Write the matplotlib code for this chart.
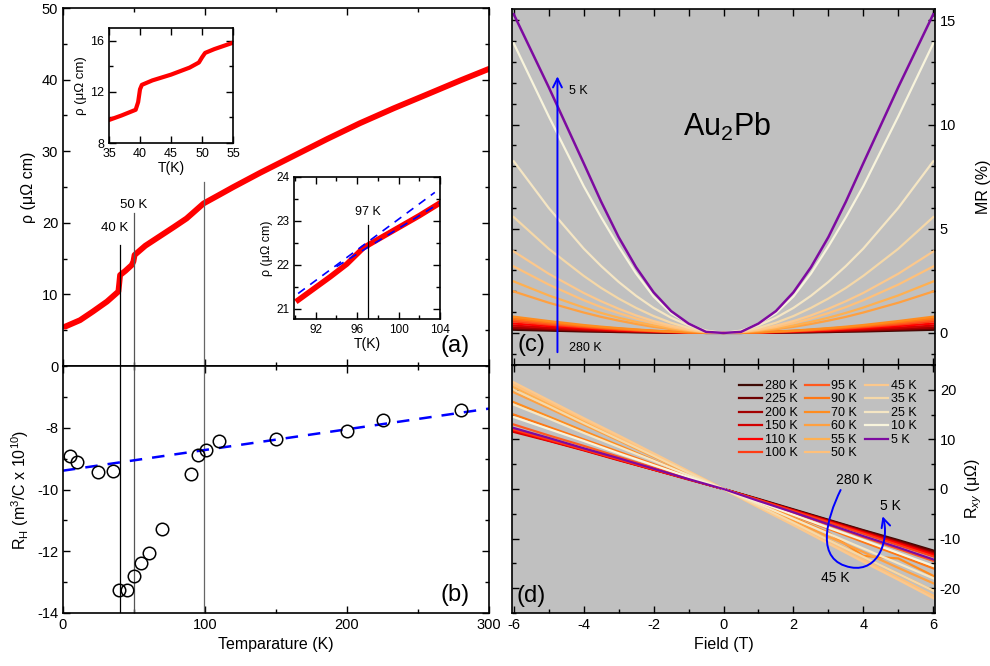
import matplotlib.pyplot as plt
import numpy as np
from matplotlib.ticker import MultipleLocator, FixedLocator, NullFormatter
from matplotlib.patches import FancyArrowPatch
from matplotlib.path import Path

plt.rcParams['font.family'] = ['Liberation Sans', 'DejaVu Sans']
plt.rcParams['mathtext.fontset'] = 'custom'
plt.rcParams['mathtext.rm'] = 'Liberation Sans'
plt.rcParams['mathtext.it'] = 'Liberation Sans:italic'
plt.rcParams['axes.unicode_minus'] = False

# ---- (a) resistivity vs temperature
T_rho = [1.5, 5, 12, 21, 31, 39, 39.6, 40.2, 44, 48.4, 49.6, 50.4, 58, 68, 78, 87, 99,
         110, 120, 139, 153, 162, 186, 209, 233, 256, 280, 300]
rho = [5.5, 5.8, 6.4, 7.6, 9.0, 10.4, 11.5, 12.7, 13.3, 14.1, 14.6, 15.5, 16.8, 18.1, 19.4,
       20.6, 22.7, 23.9, 25.0, 27.0, 28.4, 29.3, 31.7, 33.9, 36.0, 37.9, 39.9, 41.5]

# inset 1 (35-55 K)
T_in1 = [35, 37, 39.3, 39.7, 40.0, 40.3, 42, 45, 48, 49.5, 50.0, 50.5, 52, 55]
rho_in1 = [9.8, 10.15, 10.6, 11.2, 12.2, 12.55, 12.9, 13.35, 13.9, 14.3, 14.7, 15.05, 15.35, 15.85]

# inset 2 (90-104 K)
T_in2 = [90.3, 93.4, 95, 96.6, 98, 100, 102, 104]
rho_in2 = [21.2, 21.73, 22.02, 22.39, 22.58, 22.85, 23.12, 23.41]
T_fit_lo = [90.3, 103.5]
rho_fit_lo = [21.35, 23.65]
T_fit_hi = [94, 104]
rho_fit_hi = [21.96, 23.41]

# ---- (b) Hall coefficient
T_hall = [4.9, 10.1, 24.9, 35, 39.7, 45.3, 50, 55.2, 60.3, 70, 89.9, 95, 100.5, 110, 150,
          200.2, 225.6, 280]
R_H = [-8.93, -9.10, -9.44, -9.39, -13.24, -13.24, -12.81, -12.38, -12.05, -11.29, -9.5,
       -8.88, -8.72, -8.44, -8.38, -8.11, -7.74, -7.44]
T_line = [0, 300]
R_line = [-9.39, -7.38]

# ---- (c) MR, (d) Hall resistance
temps = ['280 K', '225 K', '200 K', '150 K', '110 K', '100 K', '95 K', '90 K', '70 K',
         '60 K', '55 K', '50 K', '45 K', '35 K', '25 K', '10 K', '5 K']
colors = ['#3d0a05', '#6e0000', '#a30000', '#d10000', '#ff0000', '#ff3c14', '#ff5a1e',
          '#ff7814', '#ff8c1e', '#ffa040', '#ffb050', '#ffc07a', '#fcc88c', '#f5d8a8',
          '#f5e6c4', '#f8f4dc', '#7d0aa0']

B_half = [0, 0.5, 1, 1.5, 2, 2.5, 3, 3.5, 4, 5, 6]
mr_half = [
    [0, 0, 0.01, 0.01, 0.02, 0.03, 0.04, 0.06, 0.07, 0.11, 0.15],
    [0, 0, 0.01, 0.02, 0.03, 0.04, 0.06, 0.08, 0.10, 0.15, 0.20],
    [0, 0, 0.01, 0.02, 0.04, 0.06, 0.08, 0.10, 0.13, 0.19, 0.26],
    [0, 0, 0.02, 0.03, 0.05, 0.08, 0.10, 0.14, 0.17, 0.25, 0.35],
    [0, 0.01, 0.02, 0.04, 0.07, 0.10, 0.13, 0.18, 0.22, 0.33, 0.45],
    [0, 0.01, 0.02, 0.05, 0.08, 0.12, 0.16, 0.21, 0.27, 0.40, 0.55],
    [0, 0.01, 0.03, 0.05, 0.09, 0.13, 0.18, 0.24, 0.31, 0.45, 0.62],
    [0, 0.01, 0.03, 0.06, 0.10, 0.15, 0.21, 0.27, 0.34, 0.51, 0.70],
    [0, 0.01, 0.03, 0.07, 0.11, 0.17, 0.23, 0.30, 0.38, 0.57, 0.78],
    [0, 0.03, 0.09, 0.18, 0.29, 0.43, 0.59, 0.77, 0.98, 1.45, 1.99],
    [0, 0.03, 0.11, 0.22, 0.36, 0.53, 0.73, 0.96, 1.22, 1.80, 2.47],
    [0, 0.04, 0.14, 0.28, 0.47, 0.69, 0.95, 1.24, 1.57, 2.32, 3.19],
    [0, 0.05, 0.17, 0.35, 0.57, 0.84, 1.16, 1.52, 1.92, 2.84, 3.91],
    [0, 0.07, 0.24, 0.49, 0.81, 1.20, 1.65, 2.16, 2.74, 4.04, 5.56],
    [0, 0.11, 0.36, 0.73, 1.20, 1.78, 2.45, 3.21, 4.05, 6.00, 8.24],
    [0, 0.08, 0.45, 0.95, 1.75, 2.85, 4.15, 5.55, 7.05, 10.40, 13.90],
    [0, 0.05, 0.45, 1.05, 1.95, 3.15, 4.60, 6.30, 8.15, 11.80, 15.30],
]

B_hall = [-6, -5, -4, -3, -2, -1, 0, 1, 2, 3, 4, 5, 6]
rxy = [
    [12.0, 10.1, 8.1, 6.2, 4.1, 2.1, 0.0, -2.0, -4.1, -6.2, -8.3, -10.3, -12.4],
    [11.8, 9.9, 8.0, 6.0, 4.0, 2.0, 0.0, -2.1, -4.2, -6.3, -8.4, -10.5, -12.6],
    [11.7, 9.8, 7.9, 5.9, 3.9, 2.0, 0.0, -2.1, -4.3, -6.4, -8.6, -10.7, -12.9],
    [11.5, 9.7, 7.8, 5.8, 3.9, 1.9, 0.0, -2.2, -4.3, -6.5, -8.7, -10.9, -13.1],
    [11.8, 9.8, 7.9, 5.9, 3.9, 2.0, 0.0, -2.2, -4.4, -6.6, -8.8, -11.0, -13.3],
    [12.0, 10.0, 8.0, 6.0, 4.0, 2.0, 0.0, -2.2, -4.5, -6.7, -9.0, -11.3, -13.6],
    [13.0, 10.8, 8.7, 6.5, 4.3, 2.2, 0.0, -2.4, -4.8, -7.2, -9.7, -12.1, -14.5],
    [15.0, 12.5, 10.0, 7.5, 5.0, 2.5, 0.0, -2.7, -5.3, -8.0, -10.7, -13.3, -16.0],
    [17.5, 14.6, 11.7, 8.8, 5.8, 2.9, 0.0, -2.9, -5.8, -8.8, -13.5, -14.0, -17.5],
    [19.5, 16.3, 13.0, 9.8, 6.5, 3.2, 0.0, -3.2, -6.4, -9.6, -12.7, -15.9, -19.0],
    [20.5, 17.1, 13.7, 10.2, 6.8, 3.4, 0.0, -3.4, -6.8, -10.2, -13.7, -17.1, -20.5],
    [21.0, 17.5, 14.0, 10.5, 7.0, 3.5, 0.0, -3.6, -7.2, -10.8, -14.3, -17.9, -21.5],
    [21.5, 17.9, 14.3, 10.8, 7.2, 3.6, 0.0, -3.7, -7.3, -11.0, -14.7, -18.3, -22.0],
    [20.0, 16.7, 13.3, 10.0, 6.7, 3.3, 0.0, -3.4, -6.8, -10.3, -13.7, -17.1, -20.5],
    [17.0, 14.2, 11.3, 8.5, 5.7, 2.8, 0.0, -3.0, -6.0, -9.0, -12.0, -15.0, -18.0],
    [14.5, 12.1, 9.7, 7.2, 4.8, 2.4, 0.0, -2.6, -5.2, -7.8, -10.3, -12.9, -15.5],
    [12.3, 10.3, 8.2, 6.2, 4.1, 2.0, 0.0, -2.4, -4.7, -7.1, -9.5, -11.8, -14.2],
]


def style(ax, xmaj, xmin, ymaj, ymin, size=10.5, lw=1.2):
    ax.xaxis.set_major_locator(MultipleLocator(xmaj))
    ax.xaxis.set_minor_locator(MultipleLocator(xmin))
    ax.yaxis.set_major_locator(MultipleLocator(ymaj))
    ax.yaxis.set_minor_locator(MultipleLocator(ymin))
    ax.tick_params(which='both', direction='in', top=True, right=True, left=True,
                   bottom=True, labelsize=size, width=1)
    ax.tick_params(which='major', length=5)
    ax.tick_params(which='minor', length=3)
    for s in ax.spines.values():
        s.set_linewidth(lw)


fig = plt.figure(figsize=(9.9, 6.66), dpi=100)

L, W = 63/990, 426/990
R0, RW = 512/990, 423/990
ax_a = fig.add_axes([L, 300/666, W, 358/666])
ax_b = fig.add_axes([L, 53/666, W, 247/666])
ax_c = fig.add_axes([R0, 301/666, RW, 356/666])
ax_d = fig.add_axes([R0, 53/666, RW, 248/666])

# (a)
ax_a.plot(T_rho, rho, color='red', lw=4.2, solid_capstyle='round', solid_joinstyle='round')
ax_a.set_xlim(0, 300)
ax_a.set_ylim(0, 50)
style(ax_a, 100, 50, 10, 5)
ax_a.xaxis.set_major_formatter(NullFormatter())
ax_a.set_ylabel(r'ρ (μΩ cm)', fontsize=11.5)
for t, top, c in [(40, 16.9, 'black'), (50, 21.3, '#555555'), (99, 25.7, '#666666')]:
    ax_a.plot([t, t], [0, top], color=c, lw=0.9)
    ax_b.axvline(t, color=c, lw=0.9)
ax_a.text(36.6, 19.3, '40 K', ha='center', va='center', fontsize=9.5)
ax_a.text(50, 22.5, '50 K', ha='center', va='center', fontsize=9.5)
ax_a.text(276, 2.8, '(a)', ha='center', va='center', fontsize=17)

# inset 1
ins1 = fig.add_axes([109/990, 1 - 143/666, 124/990, 115/666])
ins1.plot(T_in1, rho_in1, color='red', lw=3)
ins1.set_xlim(35, 55)
ins1.set_ylim(8, 17)
style(ins1, 5, 5, 4, 2, size=9)
ins1.set_xlabel('T(K)', fontsize=10, labelpad=1)
ins1.set_ylabel(r'ρ (μΩ cm)', fontsize=9.5, labelpad=2)

# inset 2
ins2 = fig.add_axes([294/990, 1 - 319/666, 146/990, 142/666])
ins2.plot(T_in2, rho_in2, color='red', lw=4)
ins2.plot(T_fit_lo, rho_fit_lo, color='blue', lw=1.2, ls=(0, (5, 4)))
ins2.plot(T_fit_hi, rho_fit_hi, color='blue', lw=1.2, ls=(0, (5, 4)))
ins2.plot([97, 97], [20.77, 22.9], color='black', lw=0.9)
ins2.text(97, 23.2, '97 K', ha='center', va='center', fontsize=9)
ins2.set_xlim(89.9, 104)
ins2.set_ylim(20.77, 24)
style(ins2, 4, 2, 1, 0.5, size=8.5)
ins2.set_xlabel('T(K)', fontsize=10, labelpad=1)
ins2.set_ylabel(r'ρ (μΩ cm)', fontsize=9, labelpad=2)

# (b)
ax_b.plot(T_line, R_line, color='blue', lw=1.8, ls=(0, (5, 4)))
ax_b.plot(T_hall, R_H, 'o', ms=9, mfc='none', mec='black', mew=1.1)
ax_b.set_xlim(0, 300)
ax_b.set_ylim(-14, -6)
style(ax_b, 100, 50, 2, 1)
ax_b.yaxis.set_major_locator(FixedLocator([-14, -12, -10, -8]))
ax_b.set_xlabel('Temparature (K)', fontsize=11.5)
ax_b.set_ylabel(r'R$_\mathrm{H}$ (m$^3$/C x 10$^{10}$)', fontsize=11.5)
ax_b.text(276, -13.42, '(b)', ha='center', va='center', fontsize=17)

# (c)
Bf = np.r_[-np.array(B_half[:0:-1]), B_half]
for lab, col, v in zip(temps, colors, mr_half):
    ax_c.plot(Bf, np.r_[v[:0:-1], v], color=col, lw=1.6 if lab != '5 K' else 1.8)
ax_c.set_facecolor('#c0c0c0')
ax_c.set_xlim(-6.05, 6.05)
ax_c.set_ylim(-1.54, 15.55)
style(ax_c, 1, 1, 5, 1)
ax_c.tick_params(labelbottom=False, labelleft=False, labelright=True)
ax_c.yaxis.set_label_position('right')
ax_c.set_ylabel('MR (%)', fontsize=11.5, labelpad=14)
ax_c.annotate('', xy=(-4.75, 12.45), xytext=(-4.75, -1.06),
              arrowprops=dict(arrowstyle='->', color='blue', lw=1.4, mutation_scale=16),
              zorder=6)
ax_c.text(-4.42, 11.6, '5 K', fontsize=9, va='center')
ax_c.text(-4.42, -0.72, '280 K', fontsize=9, va='center')
ax_c.text(0.1, 9.9, r'Au$_2$Pb', fontsize=22, ha='center', va='center')
ax_c.text(-5.5, -0.6, '(c)', fontsize=17, ha='center', va='center')

# (d)
for lab, col, v in zip(temps, colors, rxy):
    ax_d.plot(B_hall, v, color=col, lw=1.6, label=lab)
ax_d.set_facecolor('#c0c0c0')
ax_d.set_xlim(-6.05, 6.05)
ax_d.set_ylim(-25, 25)
style(ax_d, 2, 1, 10, 5)
ax_d.tick_params(labelleft=False, labelright=True)
ax_d.yaxis.set_label_position('right')
ax_d.set_ylabel(r'R$_{xy}$ (μΩ)', fontsize=11.5, labelpad=2)
ax_d.set_xlabel('Field (T)', fontsize=11.5)
ax_d.legend(ncol=3, loc='upper left', bbox_to_anchor=(0.515, 0.975), frameon=False,
            fontsize=9, handlelength=1.9, handletextpad=0.2, columnspacing=0.6,
            labelspacing=0.12, borderpad=0.2)
arc = Path([(3.35, -0.2), (2.95, -6), (2.6, -14.5), (3.65, -15.8),
            (4.45, -16.8), (4.75, -10), (4.55, -5.5)],
           [Path.MOVETO, Path.CURVE4, Path.CURVE4, Path.CURVE4,
            Path.CURVE4, Path.CURVE4, Path.CURVE4])
ax_d.add_patch(FancyArrowPatch(path=arc, arrowstyle='->', color='blue', lw=1.4,
                               mutation_scale=16, zorder=6))
ax_d.text(3.74, 1.8, '280 K', fontsize=10, ha='center', va='center')
ax_d.text(4.77, -3.4, '5 K', fontsize=10, ha='center', va='center')
ax_d.text(3.2, -18, '45 K', fontsize=10, ha='center', va='center')
ax_d.text(-5.5, -21.6, '(d)', fontsize=17, ha='center', va='center')

fig.savefig('out.png', dpi=100)
